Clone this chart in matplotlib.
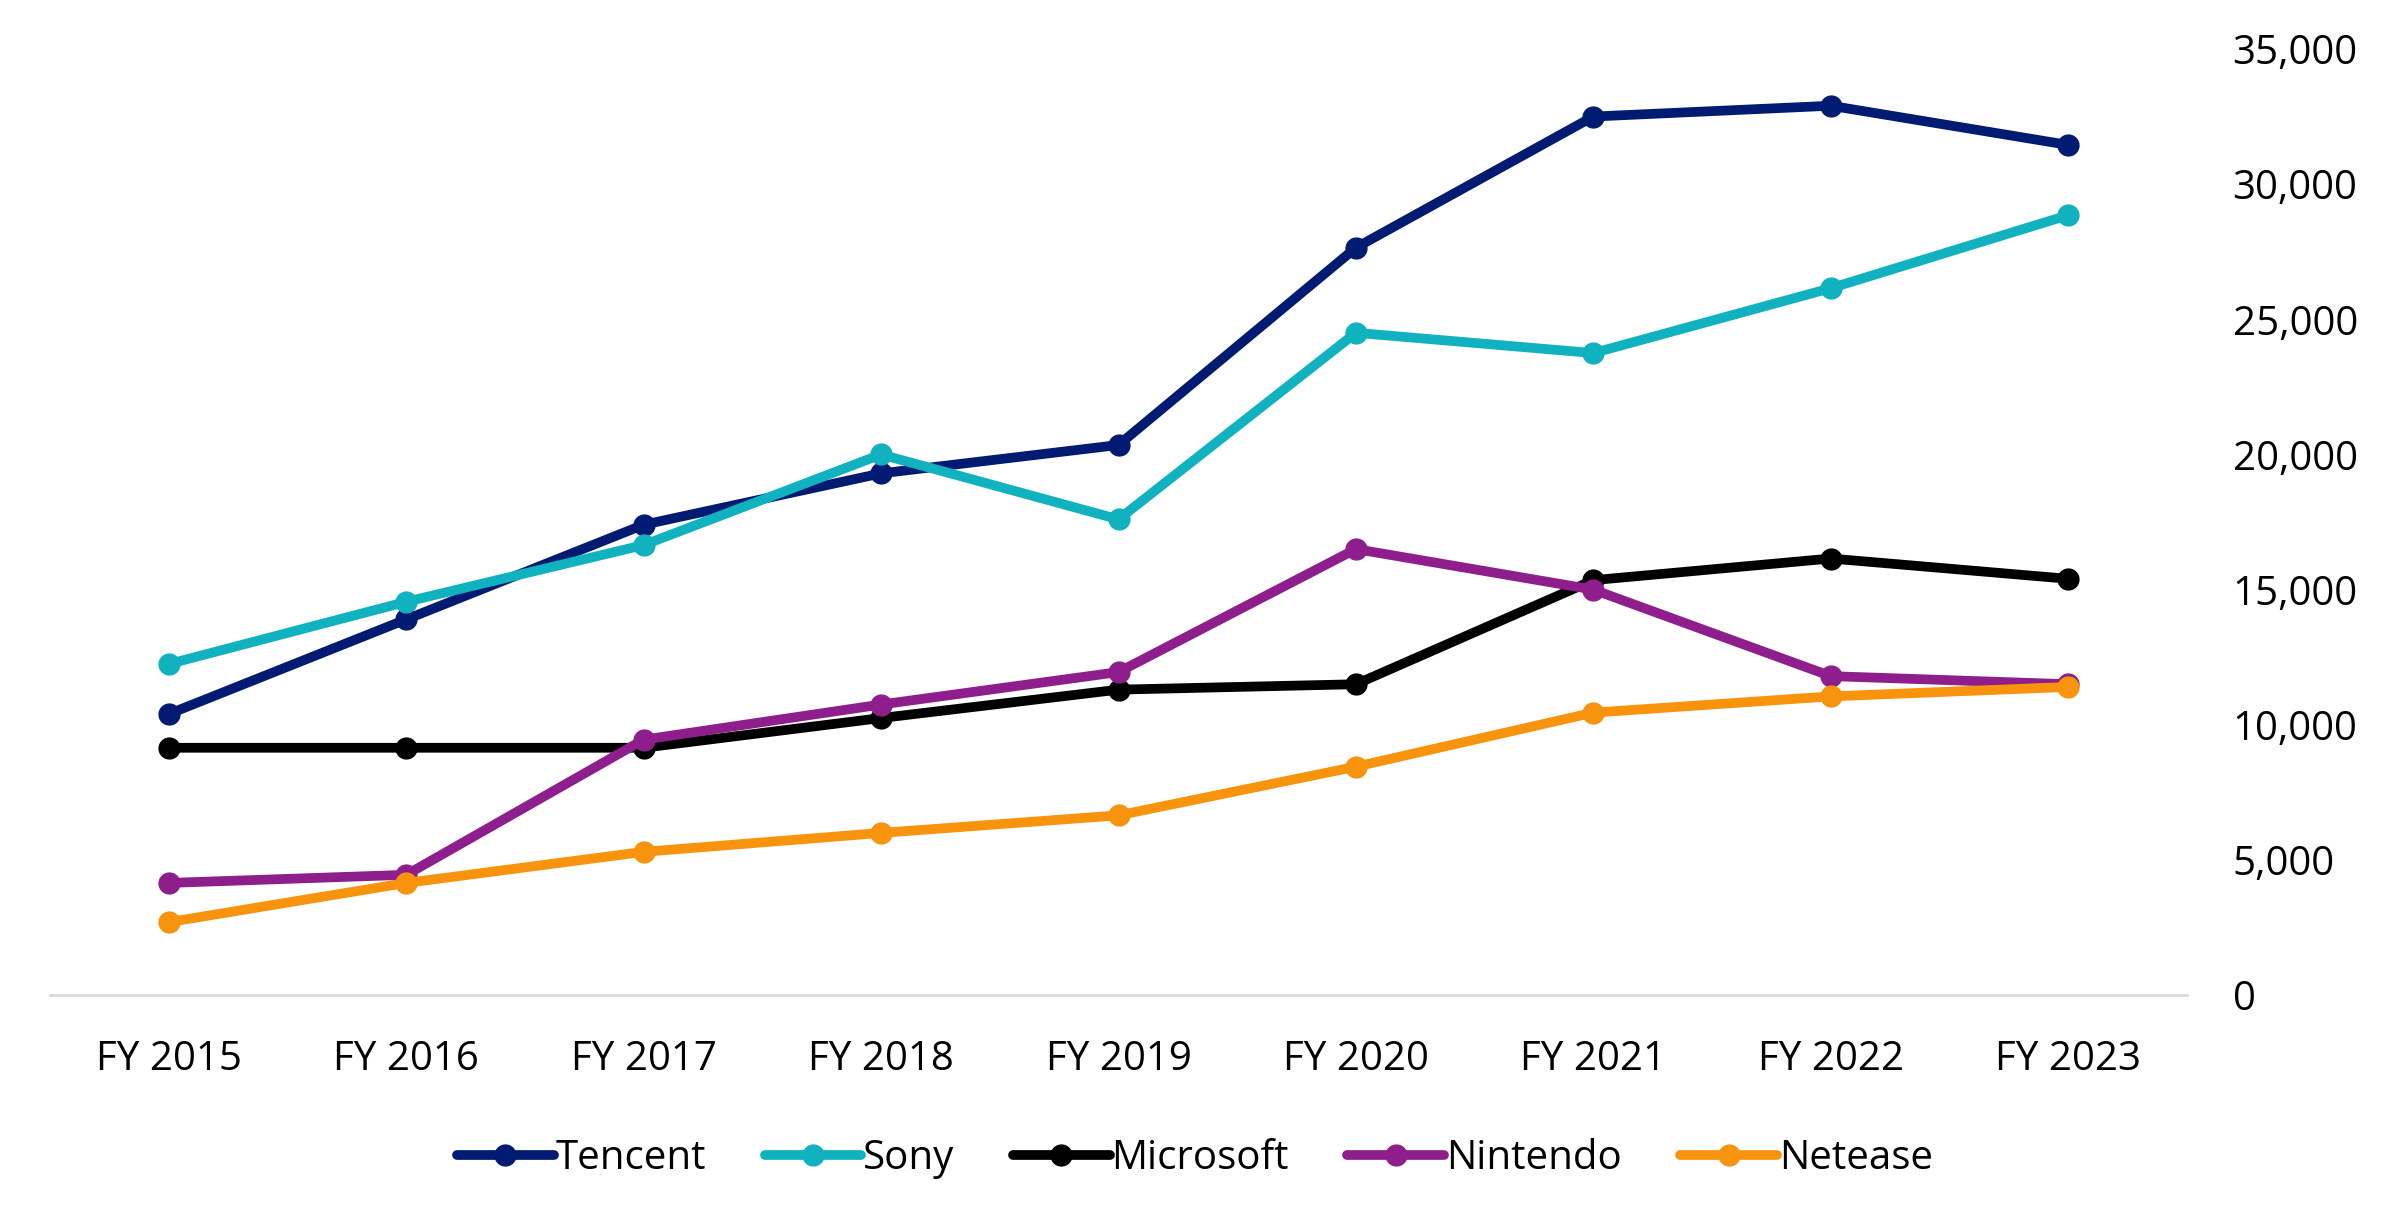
import matplotlib.pyplot as plt
from matplotlib.ticker import FuncFormatter

plt.rcParams['font.family'] = ['Open Sans', 'DejaVu Sans']

# Data
years = ["FY 2015", "FY 2016", "FY 2017", "FY 2018", "FY 2019",
         "FY 2020", "FY 2021", "FY 2022", "FY 2023"]
tencent = [10400, 13900, 17400, 19300, 20350, 27650, 32500, 32900, 31450]
sony = [12250, 14550, 16650, 20000, 17600, 24500, 23750, 26150, 28850]
microsoft = [9150, 9150, 9150, 10250, 11300, 11500, 15350, 16150, 15400]
nintendo = [4150, 4450, 9450, 10750, 11950, 16500, 15000, 11800, 11500]
netease = [2700, 4150, 5300, 6000, 6650, 8450, 10450, 11050, 11400]

series = [("Tencent", tencent, "#001B71"),
          ("Sony", sony, "#10B2C0"),
          ("Microsoft", microsoft, "#000000"),
          ("Nintendo", nintendo, "#8E1E8C"),
          ("Netease", netease, "#F7930C")]

fig = plt.figure(figsize=(23.9, 12.24), dpi=100)
ax = fig.add_axes([0.021, 0.187, 0.894, 0.773])

x = list(range(len(years)))
for name, vals, col in series:
    ax.plot(x, vals, color=col, lw=7, marker='o', markersize=15,
            label=name, solid_capstyle='round')

ax.set_xlim(-0.5, len(years) - 0.5)
ax.set_ylim(0, 35000)
ax.set_yticks(range(0, 35001, 5000))
ax.yaxis.set_major_formatter(FuncFormatter(lambda v, p: f"{int(v):,}"))
ax.yaxis.tick_right()
ax.set_xticks(x)
ax.set_xticklabels(years)

for s in ['top', 'left', 'right']:
    ax.spines[s].set_visible(False)
ax.spines['bottom'].set_color('#D9D9D9')
ax.spines['bottom'].set_linewidth(2)
ax.tick_params(axis='both', length=0, labelsize=29, colors='#000000')
ax.tick_params(axis='y', pad=33)
ax.tick_params(axis='x', pad=32)

fig.legend(loc='center', bbox_to_anchor=(0.5, 0.053), ncol=5, frameon=False,
           fontsize=29, handlelength=2.4, handletextpad=0.05, columnspacing=1.45)

fig.savefig("out.png", dpi=100)
